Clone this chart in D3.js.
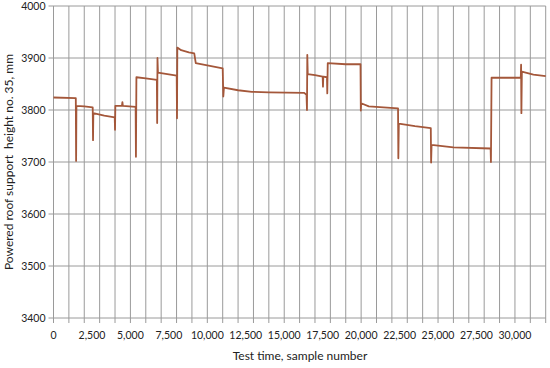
<!DOCTYPE html>
<html><head><meta charset="utf-8">
<script src="https://cdn.jsdelivr.net/npm/d3@7"></script>
<style>html,body{margin:0;padding:0;background:#fff;}svg text{font-family:Lato,"Open Sans",sans-serif;fill:#222;}</style>
</head><body>
<svg id="c" width="550" height="368"></svg>
<script>
const samples = [0,1450,1470,1490,2000,2550,2570,2590,3300,3980,4000,4020,4450,4480,4510,5340,5360,5390,6000,6720,6740,6760,6790,7400,8010,8030,8050,8300,8800,9150,9250,10000,11000,11040,11080,12000,12900,14000,16300,16450,16480,16500,16530,17000,17500,17520,17540,17780,17800,17830,19000,19960,19980,20000,20500,22400,22420,22450,23500,24530,24550,24580,26000,28420,28440,28480,29500,30380,30400,30420,30450,31200,32000];
const heights = [3824,3823,3702,3808,3807,3805,3742,3794,3789,3786,3762,3808,3808,3815,3808,3806,3710,3863,3861,3858,3775,3900,3872,3869,3866,3784,3920,3915,3911,3909,3890,3886,3880,3826,3843,3838,3835,3834,3833,3829,3800,3906,3869,3867,3864,3845,3864,3863,3832,3890,3888,3888,3799,3813,3807,3803,3707,3774,3769,3765,3699,3733,3728,3726,3700,3862,3862,3862,3887,3794,3874,3868,3865];
const xTicks = [0,2500,5000,7500,10000,12500,15000,17500,20000,22500,25000,27500,30000];
const xGrid = d3.range(0,32001,1000);
const yTicks = [3400,3500,3600,3700,3800,3900,4000];
const xTitle = "Test time, sample number";
const yTitle = "Powered roof support  height no. 35, mm";

const svg = d3.select("#c");
const L=53.5, R=545.7, T=6, B=318;
const x = d3.scaleLinear().domain([0,32000]).range([L,R]);
const y = d3.scaleLinear().domain([3400,4000]).range([B,T]);
const grid = "#9a9a9a";

const g = svg.append("g");
g.selectAll(".vg").data(xGrid).join("line")
  .attr("x1",d=>x(d)).attr("x2",d=>x(d)).attr("y1",T).attr("y2",B+5)
  .attr("stroke",grid).attr("stroke-width",1);
g.selectAll(".hg").data(yTicks).join("line")
  .attr("x1",L-5).attr("x2",R).attr("y1",d=>y(d)).attr("y2",d=>y(d))
  .attr("stroke",grid).attr("stroke-width",1);

g.selectAll(".xl").data(xTicks).join("text")
  .attr("x",d=>x(d)).attr("y",B+21).attr("text-anchor","middle")
  .attr("font-size","10.5px").text(d=>d3.format(",")(d));
g.selectAll(".yl").data(yTicks).join("text")
  .attr("x",L-8).attr("y",d=>y(d)+4).attr("text-anchor","end")
  .attr("font-size","10.5px").text(d=>d);

svg.append("text").attr("x",300).attr("y",360).attr("text-anchor","middle")
  .attr("font-size","12px").text(xTitle);
svg.append("text").attr("transform","translate(13,162) rotate(-90)").attr("text-anchor","middle")
  .attr("font-size","12px").attr("xml:space","preserve").style("white-space","pre").text(yTitle);

const pts = samples.map((s,i)=>[s,heights[i]]);
svg.append("path").datum(pts)
  .attr("d",d3.line().x(d=>x(d[0])).y(d=>y(d[1])))
  .attr("fill","none").attr("stroke","#a4573a").attr("stroke-width",1.8).attr("stroke-linejoin","round");
</script>
</body></html>
